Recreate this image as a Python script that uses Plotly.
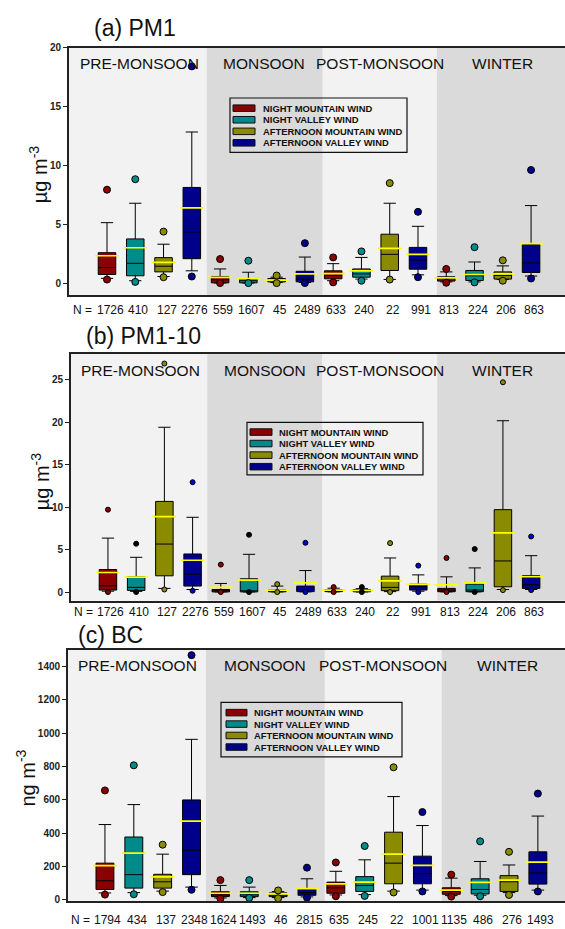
import plotly.graph_objects as go

W, H = 565, 929

SEASONS = ["PRE-MONSOON", "MONSOON", "POST-MONSOON", "WINTER"]
WINDS = ["NIGHT MOUNTAIN WIND", "NIGHT VALLEY WIND",
         "AFTERNOON MOUNTAIN WIND", "AFTERNOON VALLEY WIND"]
WIND_COLORS = ["#8b0000", "#008b8b", "#8b8b00", "#00008b"]

# box order: season-major (pre, monsoon, post, winter) x wind (NMW, NVW, AMW, AVW)
# ---------------- (a) PM1 ----------------
PM1_N = [1726, 410, 127, 2276, 559, 1607, 45, 2489, 633, 240, 22, 991, 813, 224, 206, 863]
PM1_P95 = [7.93, 8.82, 4.37, 18.4, 2.04, 1.90, 0.64, 3.39, 2.18, 2.69, 8.49, 6.05, 1.20, 3.05, 1.93, 9.60]
PM1_P90 = [5.13, 6.78, 3.30, 12.83, 1.20, 0.92, 0.50, 2.21, 1.65, 2.18, 6.78, 4.82, 0.95, 1.79, 1.46, 6.58]
PM1_Q3 = [2.58, 3.75, 2.16, 8.12, 0.56, 0.34, 0.39, 1.00, 1.04, 1.20, 4.15, 3.03, 0.53, 1.07, 0.95, 3.28]
PM1_MEAN = [2.32, 3.00, 1.76, 6.39, 0.48, 0.38, 0.25, 0.78, 0.81, 1.04, 2.94, 2.44, 0.45, 0.73, 0.78, 3.35]
PM1_MED = [1.32, 1.68, 1.43, 4.34, 0.28, 0.20, 0.22, 0.34, 0.67, 0.78, 2.44, 1.96, 0.39, 0.62, 0.64, 1.71]
PM1_Q1 = [0.73, 0.62, 0.95, 2.07, 0.02, 0.02, 0.10, 0.11, 0.36, 0.50, 1.07, 1.18, 0.17, 0.22, 0.34, 0.90]
PM1_P10 = [0.40, 0.20, 0.56, 1.04, 0.01, 0.01, 0.05, 0.05, 0.20, 0.34, 0.31, 0.70, 0.10, 0.10, 0.30, 0.60]
PM1_P5 = [0.30, 0.10, 0.50, 0.56, 0.00, 0.00, 0.00, 0.00, 0.06, 0.20, 0.30, 0.50, 0.03, 0.06, 0.20, 0.39]
PM1_TICKS = [0, 5, 10, 15, 20]

# ---------------- (b) PM1-10 ----------------
PM10_N = [1726, 410, 127, 2276, 559, 1607, 45, 2489, 633, 240, 22, 991, 813, 224, 206, 863]
PM10_P95 = [9.70, 5.69, 26.9, 12.93, 3.23, 6.74, 0.93, 5.80, 0.58, 0.58, 5.76, 3.11, 4.01, 5.06, 24.7, 6.54]
PM10_P90 = [6.35, 4.09, 19.4, 8.80, 1.01, 4.44, 0.70, 2.53, 0.45, 0.40, 4.01, 2.02, 1.79, 2.84, 20.17, 4.28]
PM10_Q3 = [2.65, 1.79, 10.67, 4.48, 0.30, 1.56, 0.30, 0.70, 0.30, 0.30, 1.87, 0.93, 0.43, 0.93, 9.70, 1.91]
PM10_MEAN = [2.30, 1.75, 8.88, 3.74, 0.55, 1.40, 0.23, 1.09, 0.23, 0.20, 1.32, 0.90, 0.86, 1.09, 6.97, 1.80]
PM10_MED = [0.74, 0.55, 5.65, 2.10, 0.15, 0.15, 0.15, 0.30, 0.15, 0.12, 0.55, 0.62, 0.23, 0.23, 3.66, 0.86]
PM10_Q1 = [0.23, 0.19, 1.91, 0.70, 0.02, 0.02, 0.03, 0.05, 0.05, 0.03, 0.16, 0.23, 0.04, 0.04, 0.62, 0.43]
PM10_P10 = [0.10, 0.08, 0.43, 0.30, 0.01, 0.01, 0.01, 0.02, 0.02, 0.01, 0.05, 0.10, 0.02, 0.02, 0.30, 0.30]
PM10_P5 = [0.00, 0.00, 0.30, 0.15, 0.00, 0.00, 0.00, 0.00, 0.00, 0.00, 0.00, 0.00, 0.00, 0.00, 0.23, 0.23]
PM10_TICKS = [0, 5, 10, 15, 20, 25]

# ---------------- (c) BC ----------------
BC_N = [1794, 434, 137, 2348, 1624, 1493, 46, 2815, 635, 245, 22, 1001, 1135, 486, 276, 1493]
BC_P95 = [656, 807, 330, 1469, 117, 117, 55, 192, 223, 322, 795, 526, 150, 350, 287, 637]
BC_P90 = [451, 571, 273, 963, 85, 75, 48, 125, 170, 239, 619, 445, 129, 229, 208, 502]
BC_Q3 = [219, 376, 152, 599, 47, 47, 40, 65, 105, 138, 405, 261, 71, 125, 144, 287]
BC_MEAN = [204, 279, 136, 472, 38, 38, 34, 66, 95, 105, 273, 206, 57, 103, 117, 225]
BC_MED = [113, 150, 107, 297, 28, 28, 26, 42, 71, 85, 219, 156, 49, 61, 107, 160]
BC_Q1 = [61, 69, 69, 150, 18, 18, 18, 26, 38, 49, 95, 95, 32, 34, 49, 93]
BC_P10 = [40, 42, 51, 75, 10, 12, 12, 16, 28, 30, 51, 57, 24, 26, 42, 57]
BC_P5 = [30, 32, 45, 59, 6, 10, 8, 12, 20, 22, 43, 49, 18, 20, 28, 49]
BC_TICKS = [0, 200, 400, 600, 800, 1000, 1200, 1400]

FONT = "Liberation Sans, Arial, sans-serif"


def fx(p):
    return p / W


def fy(p):
    return 1 - p / H


POS = [s * 4 + k + 1 for s in range(4) for k in range(4)]

panels = [
    dict(sfx="", title="(a) PM1", ytitle="µg m<sup>-3</sup>",
         n=PM1_N, p95=PM1_P95, p90=PM1_P90, q3=PM1_Q3, mean=PM1_MEAN, med=PM1_MED,
         q1=PM1_Q1, p10=PM1_P10, p5=PM1_P5, ticks=PM1_TICKS,
         left=69, top=42, bottom=292, xr=[-0.344, 17.2], yr=[-1, 20],
         title_xy=(92, 22), n_y=307, dot=7, dotcols=WIND_COLORS, ytx=38, ytyoff=3,
         season_x=[139, 264, 380, 502],
         leg=(230, 93, 407, 148), leg_rows=[103.3, 115, 126.7, 138.3], sw=(233, 255), txt=261,
         shade=[4.53, 8.63, 12.67]),
    dict(sfx="2", title="(b) PM1-10", ytitle="µg m<sup>-3</sup>",
         n=PM10_N, p95=PM10_P95, p90=PM10_P90, q3=PM10_Q3, mean=PM10_MEAN, med=PM10_MED,
         q1=PM10_Q1, p10=PM10_P10, p5=PM10_P5, ticks=PM10_TICKS,
         left=71, top=352, bottom=601, xr=[-0.31, 17.2], yr=[-1, 28],
         title_xy=(84, 334), n_y=613, dot=5, ytx=40, ytyoff=4,
         dotcols=["#8b0000", "#000000", "#8b8b00", "#0000cc"],
         season_x=[140, 265, 380, 502],
         leg=(247, 421, 423, 474), leg_rows=[430.7, 442.3, 454, 465.7], sw=(250, 272), txt=277,
         shade=[4.52, 8.6, 12.67]),
    dict(sfx="3", title="(c) BC", ytitle="ng m<sup>-3</sup>",
         n=BC_N, p95=BC_P95, p90=BC_P90, q3=BC_Q3, mean=BC_MEAN, med=BC_MED,
         q1=BC_Q1, p10=BC_P10, p5=BC_P5, ticks=BC_TICKS,
         left=68, top=651, bottom=905, xr=[-0.28, 16.94], yr=[-10, 1500],
         title_xy=(76, 636), n_y=924, dot=7, dotcols=WIND_COLORS, ytx=26, ytyoff=3,
         season_x=[137, 265, 383, 507],
         leg=(221, 704, 402, 759), leg_rows=[714.3, 725.9, 737.4, 749.1], sw=(226, 247), txt=252,
         shade=[4.5, 8.62, 12.67]),
]

fig = go.Figure()
shapes = []
annotations = []
layout_axes = {}

for P in panels:
    xa = "x" + P["sfx"]
    ya = "y" + P["sfx"]
    # boxes
    for k in range(4):
        idx = [s * 4 + k for s in range(4)]
        xs = [POS[i] for i in idx]
        fig.add_trace(go.Box(
            x=xs,
            q1=[P["q1"][i] for i in idx],
            median=[P["med"][i] for i in idx],
            q3=[P["q3"][i] for i in idx],
            lowerfence=[P["p10"][i] for i in idx],
            upperfence=[P["p90"][i] for i in idx],
            fillcolor=WIND_COLORS[k],
            line=dict(color="black", width=1),
            width=0.62, whiskerwidth=0.7, boxpoints=False,
            name=WINDS[k], showlegend=False, hoverinfo="skip",
            xaxis=xa, yaxis=ya))
    # mean lines (yellow)
    for k in range(4):
        idx = [s * 4 + k for s in range(4)]
        fig.add_trace(go.Scatter(
            x=[POS[i] for i in idx], y=[P["mean"][i] for i in idx],
            mode="markers",
            marker=dict(symbol="line-ew", size=17, color="#ffff00",
                        line=dict(color="#ffff00", width=1.7)),
            showlegend=False, hoverinfo="skip", xaxis=xa, yaxis=ya))
    # 5th / 95th percentile dots
    for k in range(4):
        idx = [s * 4 + k for s in range(4)]
        xs = [POS[i] for i in idx] * 2
        ys = [P["p95"][i] for i in idx] + [P["p5"][i] for i in idx]
        fig.add_trace(go.Scatter(
            x=xs, y=ys, mode="markers",
            marker=dict(symbol="circle", size=P["dot"], color=P["dotcols"][k],
                        line=dict(color="black", width=1)),
            showlegend=False, hoverinfo="skip", xaxis=xa, yaxis=ya))

    d_x = [fx(P["left"]), 1.0]
    d_y = [fy(P["bottom"]), fy(P["top"])]
    layout_axes["xaxis" + P["sfx"]] = dict(
        domain=d_x, range=P["xr"], anchor=ya, showline=True, mirror=True,
        linecolor="#222222", linewidth=1.8, showticklabels=False, ticks="",
        showgrid=False, zeroline=False)
    layout_axes["yaxis" + P["sfx"]] = dict(
        domain=d_y, range=P["yr"], anchor=xa, showline=True, mirror=False,
        linecolor="#222222", linewidth=1.8, tickvals=P["ticks"], ticks="outside",
        ticklen=4, tickwidth=1, tickcolor="#222222", showgrid=False, zeroline=False,
        tickfont=dict(family=FONT, size=10, color="#222222", weight="bold"))

    # y axis title
    annotations.append(dict(text=P["ytitle"], xref="paper", yref="paper",
                            x=fx(P["ytx"]),
                            y=fy((P["top"] + P["bottom"]) / 2 + P["ytyoff"]),
                            xanchor="center", yanchor="middle", textangle=-90,
                            showarrow=False,
                            font=dict(family=FONT, size=20, color="#111111")))

    # season shading
    bounds = [P["xr"][0]] + P["shade"] + [P["xr"][1]]
    for s in range(4):
        shapes.append(dict(type="rect", xref=xa, yref=ya + " domain",
                           x0=bounds[s], x1=bounds[s + 1], y0=0, y1=1,
                           fillcolor="#f2f2f2" if s % 2 == 0 else "#dadada",
                           line=dict(width=0), layer="below"))
    # season labels
    for s in range(4):
        annotations.append(dict(text=SEASONS[s], xref="paper", yref="paper",
                                x=fx(P["season_x"][s]), y=fy(P["top"] + 16),
                                xanchor="center", yanchor="middle", showarrow=False,
                                font=dict(family=FONT, size=15.5, color="#111111")))
    # panel title
    annotations.append(dict(text=P["title"], xref="paper", yref="paper",
                            x=fx(P["title_xy"][0]), y=fy(P["title_xy"][1]),
                            xanchor="left", yanchor="middle", showarrow=False,
                            font=dict(family=FONT, size=23, color="#111111")))
    # N labels
    for i in range(16):
        annotations.append(dict(text=str(P["n"][i]), xref=xa, yref="paper",
                                x=POS[i], y=fy(P["n_y"]), xanchor="center",
                                yanchor="middle", showarrow=False, xshift=3,
                                font=dict(family=FONT, size=12, color="#111111")))
    annotations.append(dict(text="N =", xref=xa, yref="paper", x=POS[0],
                            y=fy(P["n_y"]), xanchor="right", yanchor="middle",
                            showarrow=False, xshift=-13,
                            font=dict(family=FONT, size=12, color="#111111")))
    # legend (frame, swatches, labels)
    lx0, ly0, lx1, ly1 = P["leg"]
    shapes.append(dict(type="rect", xref="paper", yref="paper",
                       x0=fx(lx0), x1=fx(lx1), y0=fy(ly1), y1=fy(ly0),
                       line=dict(color="#111111", width=1.2), fillcolor="rgba(0,0,0,0)"))
    for k in range(4):
        yc = P["leg_rows"][k]
        shapes.append(dict(type="rect", xref="paper", yref="paper",
                           x0=fx(P["sw"][0]), x1=fx(P["sw"][1]),
                           y0=fy(yc + 3.3), y1=fy(yc - 3.3),
                           line=dict(color="#111111", width=1), fillcolor=WIND_COLORS[k]))
        annotations.append(dict(text="<b>" + WINDS[k] + "</b>", xref="paper", yref="paper",
                                x=fx(P["txt"]), y=fy(yc), xanchor="left", yanchor="middle",
                                showarrow=False,
                                font=dict(family=FONT, size=9.4, color="#111111")))

fig.update_layout(
    width=W, height=H, margin=dict(l=0, r=0, t=0, b=0),
    paper_bgcolor="white", plot_bgcolor="#f2f2f2",
    showlegend=False, shapes=shapes, annotations=annotations,
    font=dict(family=FONT), **layout_axes)

fig.write_html("out.html")
